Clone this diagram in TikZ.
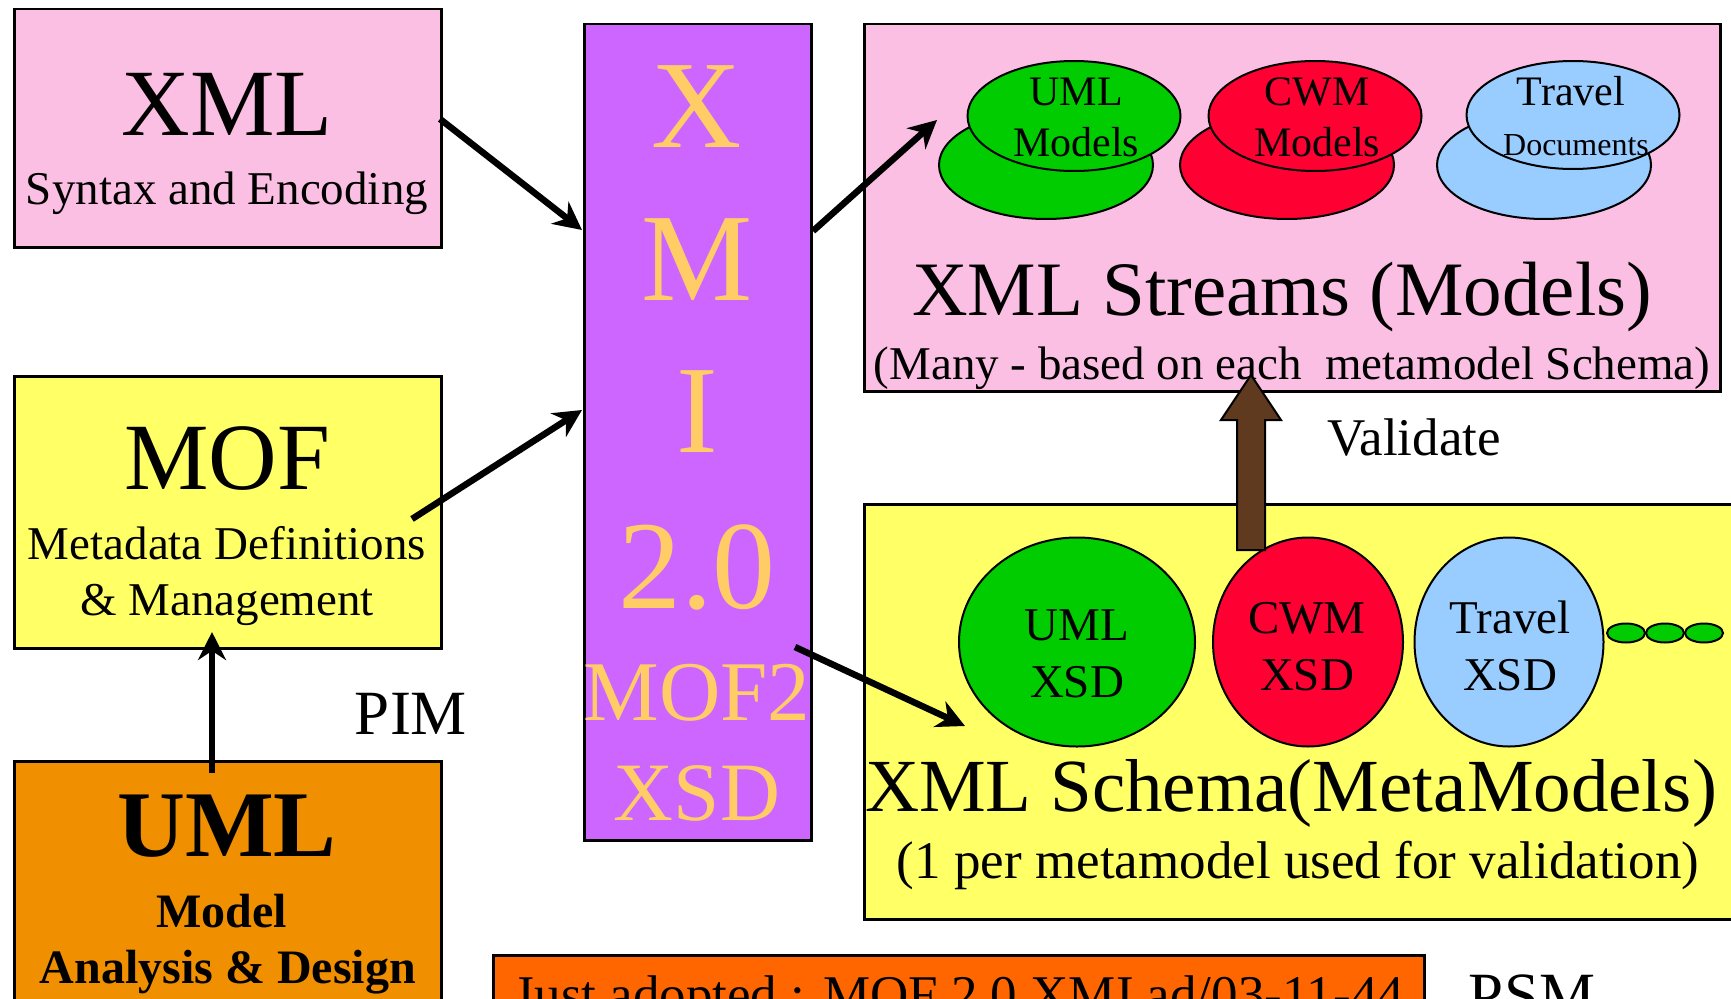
\documentclass[tikz,border=0pt]{standalone}
\usepackage{fontspec}
\setmainfont{Liberation Serif}
\usetikzlibrary{arrows.meta,shapes.geometric}

\definecolor{slidepink}{HTML}{FBBFE3}
\definecolor{slideyellow}{HTML}{FFFF66}
\definecolor{umlorange}{HTML}{F09000}
\definecolor{xmipurple}{HTML}{CC66FF}
\definecolor{xmigold}{HTML}{FFCC66}
\definecolor{umlgreen}{HTML}{00CC00}
\definecolor{cwmred}{HTML}{FF0033}
\definecolor{travelblue}{HTML}{99CCFF}
\definecolor{validbrown}{HTML}{603A1E}
\definecolor{notered}{HTML}{FF6600}

\newcommand{\fs}[1]{\fontsize{#1}{#1}\selectfont}

\begin{document}
\begin{tikzpicture}[x=1pt, y=-1pt,
  box/.style={draw=black, line width=2.5pt, inner sep=0pt, anchor=north west},
  blob/.style={ellipse, draw=black, line width=2pt, inner sep=0pt},
  txt/.style={inner sep=0pt, anchor=base},
  link/.style={line width=6.5pt, -{Stealth[length=28pt,width=28pt]}}]
  \useasboundingbox (0,0) rectangle (1731,998);
  \clip (0,0) rectangle (1731,998);
  \fill[white] (0,0) rectangle (1731,998);

  % left column
  \node[box, fill=slidepink, minimum width=427pt, minimum height=238pt] (xmlbox) at (13,8) {};
  \node[txt] (xmltitle) at (227,135) {\fs{95}XML};
  \node[txt] (xmlsub) at (227,204) {\fs{47}Syntax and Encoding};

  \node[box, fill=slideyellow, minimum width=427pt, minimum height=272pt] (mofbox) at (13,375) {};
  \node[txt] (moftitle) at (227,489) {\fs{95}MOF};
  \node[txt] (mofsub1) at (227,559) {\fs{47}Metadata Definitions};
  \node[txt] (mofsub2) at (227,615) {\fs{47}\& Management};

  \node[box, fill=umlorange, minimum width=427pt, minimum height=280pt] (umlbox) at (13,760) {};
  \node[txt] (umltitle) at (227,856) {\bfseries\fs{94}UML};
  \node[txt] (umlsub1) at (222,927) {\bfseries\fs{48}Model};
  \node[txt] (umlsub2) at (228,983) {\bfseries\fs{48}Analysis \& Design};

  \node[txt] (pim) at (411,734) {\fs{63}PIM};

  % XMI column
  \node[box, fill=xmipurple, minimum width=227pt, minimum height=816pt] (xmi) at (583,23) {};
  \node[txt, text=xmigold] (xmiX) at (697,147) {\fs{125}X};
  \node[txt, text=xmigold] (xmiM) at (697,300) {\fs{125}M};
  \node[txt, text=xmigold] (xmiI) at (697,452) {\fs{125}I};
  \node[txt, text=xmigold] (xmiver) at (697,608) {\fs{126}2.0};
  \node[txt, text=xmigold] (xmimof) at (697,720) {\fs{85}MOF2};
  \node[txt, text=xmigold] (xmixsd) at (697,820) {\fs{83}XSD};

  % XML streams
  \node[box, fill=slidepink, minimum width=856pt, minimum height=367pt] (streams) at (863,23) {};
  \node[blob, fill=umlgreen, minimum width=214pt, minimum height=108pt] (umlback) at (1046,165) {};
  \node[blob, fill=umlgreen, minimum width=213pt, minimum height=110pt] (umlfront) at (1074,116) {};
  \node[blob, fill=cwmred, minimum width=214pt, minimum height=108pt] (cwmback) at (1287,165) {};
  \node[blob, fill=cwmred, minimum width=213pt, minimum height=110pt] (cwmfront) at (1315,116) {};
  \node[blob, fill=travelblue, minimum width=214pt, minimum height=108pt] (travelback) at (1544,165) {};
  \node[blob, fill=travelblue, minimum width=213pt, minimum height=108pt] (travelfront) at (1573,115) {};
  \node[txt] (umlm1) at (1076,105) {\fs{42}UML};
  \node[txt] (umlm2) at (1076,156) {\fs{42}Models};
  \node[txt] (cwmm1) at (1317,105) {\fs{42}CWM};
  \node[txt] (cwmm2) at (1317,156) {\fs{42}Models};
  \node[txt] (travm1) at (1571,105) {\fs{42}Travel};
  \node[txt] (travm2) at (1576,155) {\fs{32}Documents};
  \node[txt] (streamstitle) at (1282,315) {\fs{77}XML Streams (Models)};
  \node[txt] (streamssub) at (1292,379) {\fs{47}(Many - based on each\ \ metamodel Schema)};

  \node[txt] (validate) at (1414,455) {\fs{53}Validate};

  % XML schema
  \node[box, fill=slideyellow, minimum width=880pt, minimum height=415pt] (schema) at (863,503) {};
  \node[blob, fill=umlgreen, minimum width=236pt, minimum height=209pt] (umlxsd) at (1077,642) {};
  \node[blob, fill=cwmred, minimum width=190pt, minimum height=209pt] (cwmxsd) at (1308,642) {};
  \node[blob, fill=travelblue, minimum width=189pt, minimum height=209pt] (travelxsd) at (1509,642) {};
  \foreach \i/\x in {1/1626, 2/1665, 3/1704}
    \node[blob, fill=umlgreen, minimum width=38pt, minimum height=19pt] (dot\i) at (\x,633) {};
  \node[txt] (umlx1) at (1077,640) {\fs{47}UML};
  \node[txt] (umlx2) at (1077,697) {\fs{47}XSD};
  \node[txt] (cwmx1) at (1307,633) {\fs{47}CWM};
  \node[txt] (cwmx2) at (1307,690) {\fs{47}XSD};
  \node[txt] (travx1) at (1510,633) {\fs{47}Travel};
  \node[txt] (travx2) at (1510,690) {\fs{47}XSD};
  \node[txt] (schematitle) at (1291,811) {\fs{75}XML Schema(MetaModels)};
  \node[txt] (schemasub) at (1298,878) {\fs{53}(1 per metamodel used for validation)};

  % bottom note
  \node[box, fill=notered, minimum width=931pt, minimum height=90pt] (note) at (492,954) {};
  \node[txt] (notetext) at (959,1012) {\fs{53}Just adopted : MOF 2.0 XMI ad/03-11-44};
  \node[txt] (psm) at (1532,1016) {\fs{63}PSM};

  % validate arrow
  \fill[validbrown, draw=black, line width=2pt]
    (1237,550) -- (1237,420) -- (1221,420) -- (1251,375) -- (1281,420)
    -- (1265,420) -- (1265,550) -- cycle;

  % connectors
  \coordinate (xmlout) at (440,119);
  \coordinate (xmiin1) at (582,230);
  \coordinate (mofout) at (412,519);
  \coordinate (xmiin2) at (582,410);
  \coordinate (xmiout1) at (813,231);
  \coordinate (streamsin) at (937,120);
  \coordinate (xmiout2) at (795,647);
  \coordinate (schemain) at (965,726);
  \coordinate (umlout) at (212,773);
  \coordinate (mofin) at (212,632);
  \draw[link] (xmlout) -- (xmiin1);
  \draw[link] (mofout) -- (xmiin2);
  \draw[link] (xmiout1) -- (streamsin);
  \draw[link] (xmiout2) -- (schemain);
  \draw[link] (umlout) -- (mofin);
\end{tikzpicture}
\end{document}
